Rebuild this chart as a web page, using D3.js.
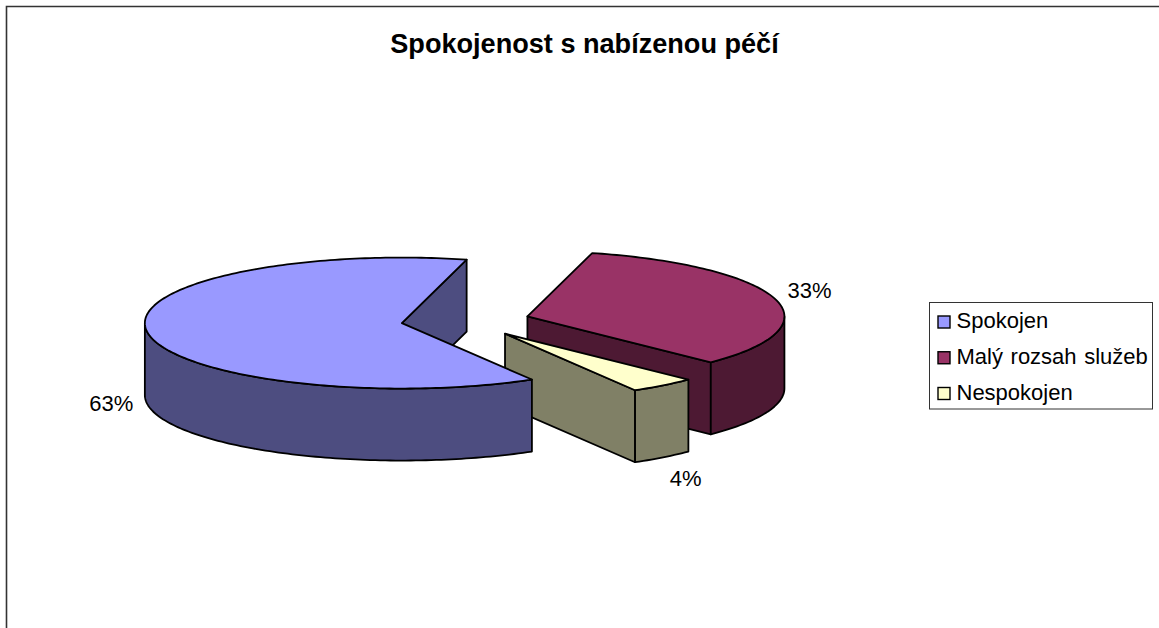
<!DOCTYPE html>
<html lang="cs">
    <head>
        <meta charset="utf-8">
        <title>Spokojenost s nabízenou péčí</title>
        <script src="https://d3js.org/d3.v7.min.js"></script>
        <style type="text/css">
          html, body { margin: 0; padding: 0; background: #fff; overflow: hidden; }
          svg { display: block; width: 1159px; height: 628px; }
          text { font-family: "Liberation Sans", Arial, sans-serif; fill: #000; }
          .title { font-size: 27.1px; font-weight: bold; }
          .labels { font-size: 22px; }
          .legend { font-size: 22px; word-spacing: 1.5px; }
        </style>
    </head>
    <body>
        <svg></svg>

        <script type="text/javascript">
//Values (slice angles say 62.5 / 33.3 / 4.2, labels round them)
const chartTitle = "Spokojenost s nabízenou péčí";
const categories = ["Spokojen", "Malý rozsah služeb", "Nespokojen"];
const shares = [62.5, 33.3, 4.2];

const topColors = ["#9999FF", "#993366", "#FFFFCC"];
const sideColors = ["#4D4D80", "#4D1933", "#808066"];

//Layout of the tilted pie
const centerX = 465.5, centerY = 320.8;
const radiusX = 257, radiusY = 65.5;
const depth = 72;
const explode = 0.25;
const firstAngle = 149.6 * Math.PI / 180;

//Where each % label centre sits relative to the rim point at the middle of its slice
const labelShift = [[-36, 71], [34.5, -9], [22.5, 93]];

const svg = d3.select("svg");

//Border is only on top and left in the original
svg.append("path")
   .attr("d", "M6.5,628 L6.5,6.5 L1159,6.5")
   .attr("fill", "none")
   .attr("stroke", "#333")
   .attr("stroke-width", 1.6);

svg.append("text")
   .attr("class", "title")
   .attr("x", 584.5)
   .attr("y", 53)
   .attr("text-anchor", "middle")
   .text(chartTitle);

//Angles from d3.pie, clockwise from 12 o'clock
const slices = d3.pie()
                 .sort(null)
                 .startAngle(firstAngle)
                 .endAngle(firstAngle + 2 * Math.PI)(shares);

//Projection of the flat pie on to the screen
const unitX = d3.scaleLinear().domain([-1, 1]).range([-radiusX, radiusX]);
const unitY = d3.scaleLinear().domain([-1, 1]).range([-radiusY, radiusY]);

function rimPoint(c, a, drop) {
  return [c[0] + unitX(Math.sin(a)), c[1] + unitY(-Math.cos(a)) + (drop || 0)];
}

function arcPoints(c, a0, a1, drop) {
  const n = Math.max(2, Math.ceil(Math.abs(a1 - a0) / 0.02));
  return d3.range(n + 1).map(i => rimPoint(c, a0 + (a1 - a0) * i / n, drop));
}

const line = d3.line();

slices.forEach(d => {
  const mid = (d.startAngle + d.endAngle) / 2;
  d.center = [centerX + explode * unitX(Math.sin(mid)), centerY + explode * unitY(-Math.cos(mid))];
  d.mid = mid;
});

//Rim is visible only on the front half of the ellipse (90deg to 270deg)
function frontRims(d) {
  const out = [];
  for (let k = 0; k < 2; k++) {
    const lo = Math.PI / 2 + k * 2 * Math.PI, hi = 3 * Math.PI / 2 + k * 2 * Math.PI;
    const a0 = Math.max(d.startAngle, lo), a1 = Math.min(d.endAngle, hi);
    if (a1 > a0) out.push([a0, a1]);
  }
  return out;
}

function drawSlice(d, i) {
  const g = svg.append("g");
  const c = d.center;
  const cBottom = [c[0], c[1] + depth];

  const walls = [];
  if (Math.sin(d.endAngle) > 0) walls.push(d.endAngle);
  if (Math.sin(d.startAngle) < 0) walls.push(d.startAngle);

  walls.forEach(a => {
    g.append("path")
     .attr("d", line([c, rimPoint(c, a), rimPoint(c, a, depth), cBottom]) + "Z")
     .attr("fill", sideColors[i]);
  });

  frontRims(d).forEach(r => {
    const upper = arcPoints(c, r[0], r[1]);
    const lower = arcPoints(c, r[1], r[0], depth);
    g.append("path")
     .attr("d", line(upper.concat(lower)) + "Z")
     .attr("fill", sideColors[i]);
  });

  //Top goes last so it hides the lower part of the walls
  g.append("path")
   .attr("d", line([c].concat(arcPoints(c, d.startAngle, d.endAngle))) + "Z")
   .attr("fill", topColors[i]);

  g.selectAll("path")
   .attr("stroke", "#000")
   .attr("stroke-width", 1.8)
   .attr("stroke-linejoin", "round");
}

//Back to front: maroon, yellow, then blue over both
[1, 2, 0].forEach(i => drawSlice(slices[i], i));

//Percent labels
slices.forEach((d, i) => {
  const p = rimPoint(d.center, d.mid);
  svg.append("text")
     .attr("class", "labels")
     .attr("x", p[0] + labelShift[i][0])
     .attr("y", p[1] + labelShift[i][1] + 8)
     .attr("text-anchor", "middle")
     .text(Math.round(shares[i]) + "%");
});

//Legend
const legendRow = d3.scalePoint().domain(categories).range([322, 393.5]);

svg.append("rect")
   .attr("x", 929.5)
   .attr("y", 302.5)
   .attr("width", 223)
   .attr("height", 106.5)
   .attr("fill", "#fff")
   .attr("stroke", "#333")
   .attr("stroke-width", 1);

const row = svg.selectAll(".row")
               .data(categories)
               .enter()
               .append("g")
               .attr("class", "row")
               .attr("transform", d => "translate(937," + legendRow(d) + ")");

row.append("rect")
   .attr("x", 1)
   .attr("y", -6)
   .attr("width", 12)
   .attr("height", 12)
   .attr("fill", (d, i) => topColors[i])
   .attr("stroke", "#000")
   .attr("stroke-width", 1.4);

row.append("text")
   .attr("class", "legend")
   .attr("x", 19.5)
   .attr("y", 6)
   .text(d => d);
        </script>
    </body>
</html>
